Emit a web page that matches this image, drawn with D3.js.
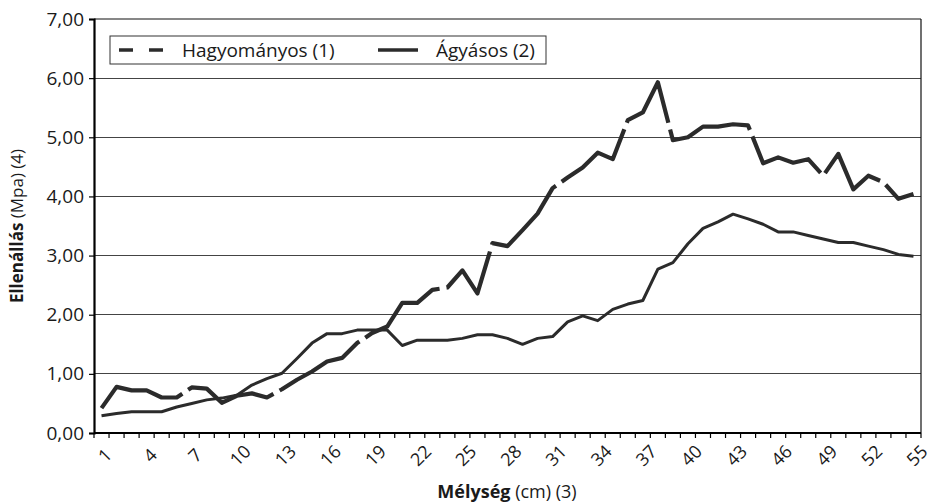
<!DOCTYPE html>
<html>
<head>
<meta charset="utf-8">
<script src="https://cdn.jsdelivr.net/npm/d3@7/dist/d3.min.js"></script>
<style>
html,body{margin:0;padding:0;background:#fff;}
svg{display:block;}
text{font-family:"Open Sans","DejaVu Sans",sans-serif;fill:#1a1a1a;}
</style>
</head>
<body>
<svg id="chart" width="934" height="503"></svg>
<script>
// ---- data ----
const categories = d3.range(1, 56);
const hagyomanyos = [0.42,0.78,0.72,0.72,0.60,0.60,0.77,0.75,0.51,0.63,
  0.67,0.60,0.74,0.90,1.04,1.21,1.27,1.52,1.69,1.80,
  2.20,2.20,2.42,2.46,2.75,2.36,3.21,3.16,3.43,3.71,
  4.14,4.32,4.49,4.74,4.63,5.29,5.42,5.93,4.95,5.00,
  5.18,5.18,5.22,5.20,4.56,4.66,4.57,4.63,4.35,4.72,
  4.12,4.35,4.24,3.96,4.04];
const agyasos = [0.29,0.33,0.36,0.36,0.36,0.44,0.50,0.56,0.59,0.64,
  0.81,0.92,1.01,1.26,1.52,1.68,1.68,1.74,1.74,1.74,
  1.48,1.57,1.57,1.57,1.60,1.66,1.66,1.60,1.50,1.60,
  1.63,1.88,1.98,1.90,2.09,2.18,2.24,2.77,2.88,3.20,
  3.46,3.57,3.70,3.62,3.53,3.40,3.40,3.34,3.28,3.22,
  3.22,3.16,3.10,3.02,2.99];
const yTicks = [0,1,2,3,4,5,6,7];
const xTickLabels = categories.filter(c => (c - 1) % 3 === 0);
const seriesNames = ["Hagyományos (1)", "Ágyásos (2)"];
const xTitle = ["Mélység", " (cm) (3)"];
const yTitle = ["Ellenállás", " (Mpa) (4)"];

// ---- layout ----
const L = 94, R = 921, T = 19, B = 433;
const svg = d3.select("#chart");
const x = d3.scaleBand().domain(categories).range([L, R]).padding(0);
const y = d3.scaleLinear().domain([0, 7]).range([B, T]);
const cx = d => x(d) + x.bandwidth() / 2;
const fmt = v => d3.format(".2f")(v).replace(".", ",");
const lineCol = "#2b2b2b";

// gridlines
svg.append("g").selectAll("line").data(yTicks.filter(t => t > 0 && t < 7)).join("line")
  .attr("x1", L).attr("x2", R).attr("y1", d => y(d)).attr("y2", d => y(d))
  .attr("stroke", "#444").attr("stroke-width", 1).attr("shape-rendering", "crispEdges");

// plot frame top/right
svg.append("line").attr("x1", L).attr("x2", R).attr("y1", y(7)).attr("y2", y(7))
  .attr("stroke", "#111").attr("stroke-width", 1.2);
svg.append("line").attr("x1", R).attr("x2", R).attr("y1", y(7)).attr("y2", y(0))
  .attr("stroke", "#111").attr("stroke-width", 1.2);

// y axis
const yAxis = d3.axisLeft(y).tickValues(yTicks).tickFormat(fmt).tickSize(5).tickPadding(5);
const gy = svg.append("g").attr("transform", `translate(${L},0)`).call(yAxis);
gy.select(".domain").attr("stroke", "#000").attr("stroke-width", 2.2);
gy.selectAll(".tick line").attr("stroke", "#000").attr("stroke-width", 1.2);
gy.selectAll(".tick text").style("font-size", "19px").attr("fill", "#1a1a1a")
  .style("font-family", '"Open Sans", sans-serif');

// x axis: ticks at band boundaries
const gx = svg.append("g");
gx.append("line").attr("x1", L).attr("x2", R).attr("y1", B).attr("y2", B)
  .attr("stroke", "#000").attr("stroke-width", 2.2);
gx.selectAll("line.tk").data(categories.concat([null])).join("line").attr("class", "tk")
  .attr("x1", (d, i) => i < categories.length ? x(d) : R)
  .attr("x2", (d, i) => i < categories.length ? x(d) : R)
  .attr("y1", B).attr("y2", B + 5).attr("stroke", "#000").attr("stroke-width", 1.2);
gx.selectAll("text").data(xTickLabels).join("text")
  .attr("transform", d => `translate(${cx(d) + 3},${B + 22}) rotate(-45)`)
  .attr("text-anchor", "middle").attr("dominant-baseline", "central")
  .style("font-size", "18px").text(d => d);

// lines
const line = d3.line().x((d, i) => cx(categories[i])).y(d => y(d));
svg.append("path").datum(agyasos).attr("d", line).attr("fill", "none")
  .attr("stroke", lineCol).attr("stroke-width", 3).attr("stroke-linejoin", "round");
svg.append("path").datum(hagyomanyos).attr("d", line).attr("fill", "none")
  .attr("stroke", lineCol).attr("stroke-width", 4.2).attr("stroke-dasharray", "95,7")
  .attr("stroke-linejoin", "round");

// legend
const lg = svg.append("g");
lg.append("rect").attr("x", 110).attr("y", 36).attr("width", 436).attr("height", 28)
  .attr("fill", "#fff").attr("stroke", "#333").attr("stroke-width", 1);
lg.append("line").attr("x1", 119).attr("x2", 163).attr("y1", 50).attr("y2", 50)
  .attr("stroke", lineCol).attr("stroke-width", 3.5).attr("stroke-dasharray", "14,16");
lg.append("text").attr("x", 182).attr("y", 50).attr("dominant-baseline", "central")
  .style("font-size", "19px").text(seriesNames[0]);
lg.append("line").attr("x1", 378).attr("x2", 418).attr("y1", 50).attr("y2", 50)
  .attr("stroke", lineCol).attr("stroke-width", 3.5);
lg.append("text").attr("x", 436).attr("y", 50).attr("dominant-baseline", "central")
  .style("font-size", "19px").text(seriesNames[1]);

// axis titles
const xt = svg.append("text").attr("x", 507).attr("y", 498)
  .attr("text-anchor", "middle").style("font-size", "18px");
xt.append("tspan").style("font-weight", "bold").text(xTitle[0]);
xt.append("tspan").text(xTitle[1]);
const yt = svg.append("text").attr("transform", `translate(23,${(T + B) / 2}) rotate(-90)`)
  .attr("text-anchor", "middle").style("font-size", "17px");
yt.append("tspan").style("font-weight", "bold").text(yTitle[0]);
yt.append("tspan").text(yTitle[1]);
</script>
</body>
</html>
